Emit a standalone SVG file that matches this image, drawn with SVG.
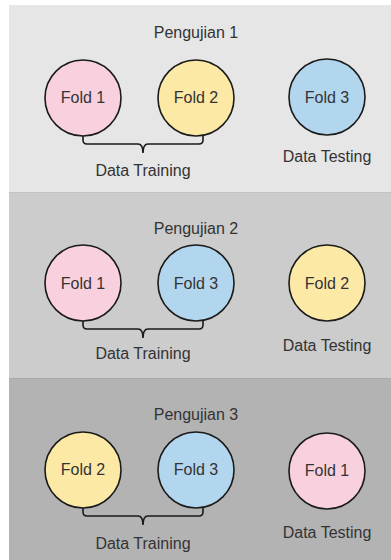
<svg xmlns="http://www.w3.org/2000/svg" width="391" height="560" viewBox="0 0 391 560">
<style>
text{font-family:"Liberation Sans",Arial,sans-serif;font-size:16px;fill:#333;text-anchor:middle;dominant-baseline:central}
.c{stroke:#1a1a1a;stroke-width:1.6}
.pink{fill:#f9d1de}.yellow{fill:#fde9a6}.blue{fill:#b3d6ef}
.brace{fill:none;stroke:#1a1a1a;stroke-width:1.6}
</style>
<rect width="391" height="560" fill="#ffffff"/>
<g id="panel1">
<rect x="9" y="5" width="382" height="187" fill="#e6e6e6"/>
<text x="196" y="32">Pengujian 1</text>
</g>
<g id="panel2">
<rect x="9" y="192" width="382" height="186" fill="#cccccc"/>
<line x1="9" y1="192.5" x2="391" y2="192.5" stroke="#c2c2c2"/>
<text x="196" y="228">Pengujian 2</text>
</g>
<g id="panel3">
<rect x="9" y="378" width="382" height="182" fill="#b3b3b3"/>
<line x1="9" y1="378.5" x2="391" y2="378.5" stroke="#aaaaaa"/>
<text x="196" y="414">Pengujian 3</text>
</g>
<g id="connectors">
<path class="brace" d="M83,136 V140 Q83,144 87,144 H138 Q143,144 143,153 Q143,144 148,144 H199 Q203,144 203,140 V136"/>
<path class="brace" d="M83,321 V325 Q83,329 87,329 H138 Q143,329 143,338 Q143,329 148,329 H199 Q203,329 203,325 V321"/>
<path class="brace" d="M83,508 V512 Q83,516 87,516 H138 Q143,516 143,525 Q143,516 148,516 H199 Q203,516 203,512 V508"/>
</g>
<g id="p1-fold1"><circle class="c pink" cx="83" cy="98" r="38"/><text x="83" y="97">Fold 1</text></g>
<g id="p1-fold2"><circle class="c yellow" cx="196" cy="98" r="38"/><text x="196" y="97">Fold 2</text></g>
<g id="p1-fold3"><circle class="c blue" cx="327" cy="97" r="38"/><text x="327" y="97">Fold 3</text></g>
<g id="p1-training"><text x="143" y="170">Data Training</text></g>
<g id="p1-testing"><text x="327" y="156">Data Testing</text></g>
<g id="p2-fold1"><circle class="c pink" cx="83" cy="283" r="38"/><text x="83" y="283">Fold 1</text></g>
<g id="p2-fold3"><circle class="c blue" cx="196" cy="283" r="38"/><text x="196" y="283">Fold 3</text></g>
<g id="p2-fold2"><circle class="c yellow" cx="327" cy="283" r="38"/><text x="327" y="283">Fold 2</text></g>
<g id="p2-training"><text x="143" y="353">Data Training</text></g>
<g id="p2-testing"><text x="327" y="345">Data Testing</text></g>
<g id="p3-fold2"><circle class="c yellow" cx="83" cy="470" r="38"/><text x="83" y="469">Fold 2</text></g>
<g id="p3-fold3"><circle class="c blue" cx="196" cy="470" r="38"/><text x="196" y="469">Fold 3</text></g>
<g id="p3-fold1"><circle class="c pink" cx="327" cy="471" r="38"/><text x="327" y="470">Fold 1</text></g>
<g id="p3-training"><text x="143" y="543">Data Training</text></g>
<g id="p3-testing"><text x="327" y="532">Data Testing</text></g>
</svg>
